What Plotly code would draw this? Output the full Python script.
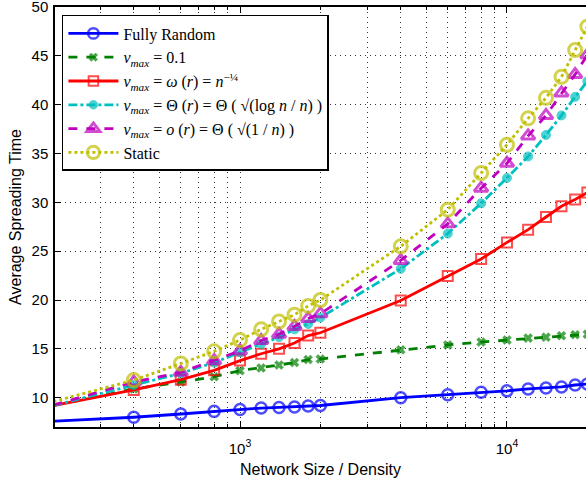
import plotly.graph_objects as go

x_vals = [200, 400, 600, 800, 1000, 1200, 1400, 1600, 1800, 2000,
          4000, 6000, 8000, 10000, 12000, 14000, 16000, 18000, 20000]

fully_random = [7.6, 8.0, 8.33, 8.6, 8.8, 8.94, 9.0, 9.05, 9.15, 9.2,
                10.0, 10.3, 10.55, 10.7, 10.9, 11.0, 11.1, 11.3, 11.4]
vmax_01 = [9.2, 10.9, 11.6, 12.15, 12.77, 13.05, 13.35, 13.6, 13.9, 13.96,
           14.9, 15.4, 15.7, 15.9, 16.1, 16.2, 16.35, 16.45, 16.5]
vmax_omega = [9.2, 10.8, 11.85, 12.8, 13.8, 14.5, 15.0, 15.6, 16.36, 16.65,
              19.95, 22.45, 24.2, 25.9, 27.2, 28.5, 29.6, 30.3, 31.0]
vmax_theta = [9.2, 11.3, 12.5, 13.6, 14.65, 15.5, 16.2, 17.0, 17.55, 18.2,
              23.2, 26.8, 29.9, 32.5, 34.7, 36.9, 38.9, 40.8, 42.4]
vmax_o = [9.25, 11.6, 12.6, 13.8, 14.8, 15.85, 16.5, 17.3, 18.1, 18.6,
          24.05, 27.8, 31.45, 34.0, 36.8, 38.9, 41.2, 43.1, 45.1]
static = [9.6, 11.8, 13.5, 14.75, 15.9, 17.0, 17.8, 18.5, 19.4, 20.0,
          25.5, 29.25, 33.0, 35.9, 38.6, 40.7, 42.85, 45.6, 48.0]

x_tick_vals = [1000, 10000]
x_tick_text = ["10<sup>3</sup>", "10<sup>4</sup>"]
x_minor_vals = [300, 400, 500, 600, 700, 800, 900,
                2000, 3000, 4000, 5000, 6000, 7000, 8000, 9000, 20000]
y_tick_vals = [10, 15, 20, 25, 30, 35, 40, 45, 50]

names = [
    "Fully Random",
    "<i>v<sub>max</sub></i> = 0.1",
    "<i>v<sub>max</sub></i> = <i>ω</i> (<i>r</i>) = <i>n</i><sup>−¼</sup>",
    "<i>v<sub>max</sub></i> = Θ (<i>r</i>) = Θ ( √(log <i>n</i> / <i>n</i>) )",
    "<i>v<sub>max</sub></i> = <i>o</i> (<i>r</i>) = Θ ( √(1 / <i>n</i>) )",
    "Static",
]

series = [fully_random, vmax_01, vmax_omega, vmax_theta, vmax_o, static]
colors = ["#0000FF", "#008000", "#FF0000", "#00BFBF", "#BF00BF", "#BFBF00"]
dashes = ["solid", "dash", "solid", "dashdot", "dash", "dot"]
symbols = ["circle-open", "x", "square-open", "circle", "triangle-up-open", "circle-open"]
msizes = [11, 8, 10, 9, 12, 13]
mlw = [2.5, 0.5, 2, 1, 3, 3]

fig = go.Figure()
for ys, nm, c, d, s, ms, lw in zip(series, names, colors, dashes, symbols, msizes, mlw):
    sizes = [0] + [ms] * (len(x_vals) - 1)
    fig.add_trace(go.Scatter(
        x=x_vals, y=ys, name=nm, mode="lines+markers",
        line=dict(color=c, width=2.8, dash=d),
        marker=dict(symbol=s, size=sizes, color=c, line=dict(color=c, width=lw)),
    ))

grid_style = dict(showgrid=True, gridcolor="#333333", gridwidth=1, griddash="1px,4px")

fig.update_layout(
    width=586, height=478,
    margin=dict(l=55, r=0, t=7, b=51, autoexpand=False),
    paper_bgcolor="white", plot_bgcolor="white",
    font=dict(family="Liberation Sans, Arial, sans-serif", size=15, color="black"),
    xaxis=dict(
        type="log", range=[2.307, 4.296], automargin=False,
        tickvals=x_tick_vals, ticktext=x_tick_text, ticklabeloverflow="allow",
        ticklabelstandoff=7,
        ticks="inside", ticklen=6, tickcolor="black",
        showline=True, linecolor="black", linewidth=1.5, mirror="ticks",
        zeroline=False, tickfont=dict(size=15),
        title=dict(text="Network Size / Density", font=dict(size=16), standoff=10),
        minor=dict(tickvals=x_minor_vals, ticks="inside", ticklen=3, tickcolor="black",
                   showgrid=True, gridcolor="#333333", gridwidth=1, griddash="1px,4px"),
        **grid_style,
    ),
    yaxis=dict(
        range=[7, 50.0001], tickvals=y_tick_vals, automargin=False,
        ticklabeloverflow="allow", ticklabelstandoff=2,
        ticks="inside", ticklen=6, tickcolor="black",
        showline=True, linecolor="black", linewidth=1.5, mirror=False,
        zeroline=False, tickfont=dict(size=15),
        title=dict(text="Average Spreading Time", font=dict(size=16), standoff=6),
        **grid_style,
    ),
    legend=dict(
        x=0.013, y=0.981, xanchor="left", yanchor="top",
        bgcolor="white", bordercolor="black", borderwidth=1.5,
        font=dict(family="Liberation Serif, DejaVu Serif, serif", size=16, color="black"),
        itemwidth=50, tracegroupgap=0,
    ),
    showlegend=True,
)

fig.write_html(
    "out.html",
    config={"displayModeBar": False},
    post_script="document.body.style.margin='0';document.body.style.overflow='hidden';",
)
